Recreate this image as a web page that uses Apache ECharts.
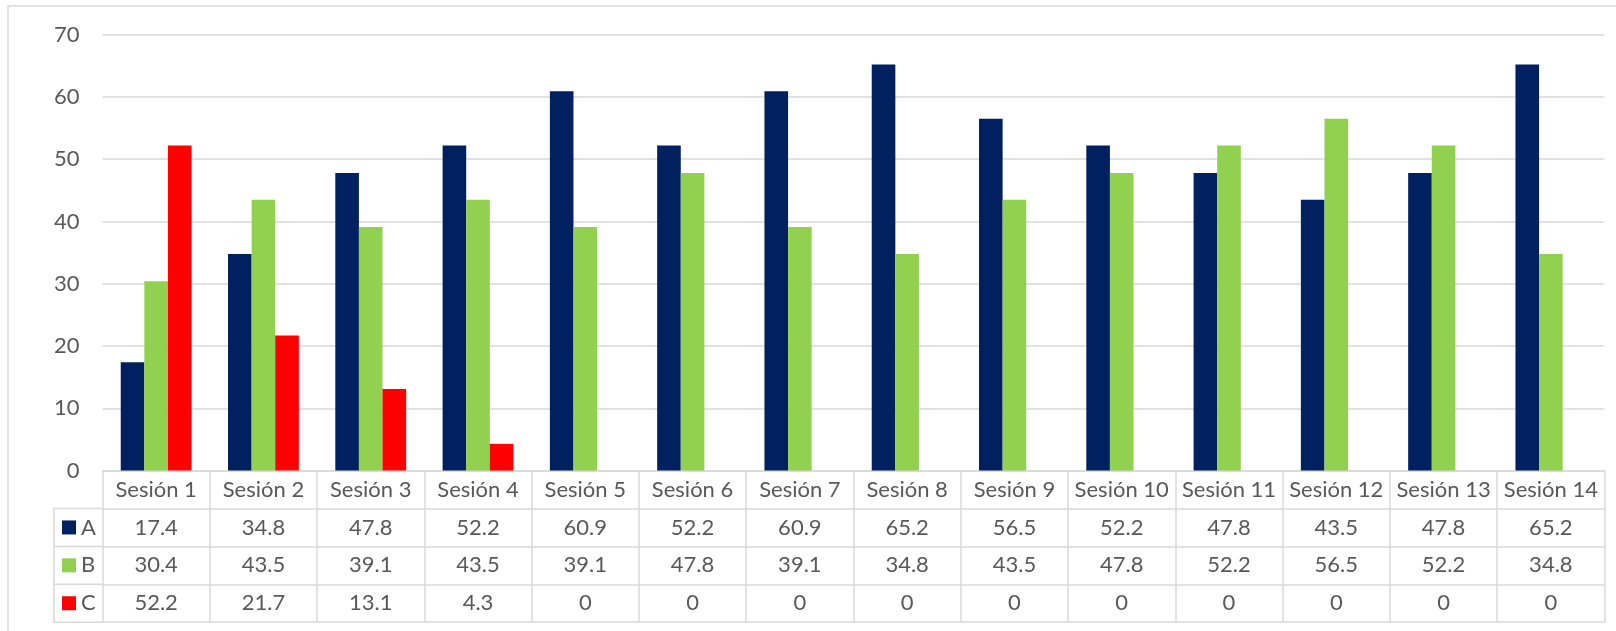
<!DOCTYPE html>
<html>
<head>
<meta charset="utf-8">
<script src="https://cdn.jsdelivr.net/npm/echarts@6/dist/echarts.min.js"></script>
<style>
html,body{margin:0;padding:0;background:#fff;}
#chart{width:1616px;height:631px;}
</style>
</head>
<body>
<div id="chart"></div>
<script>
const categories = ['Sesión 1','Sesión 2','Sesión 3','Sesión 4','Sesión 5','Sesión 6','Sesión 7','Sesión 8','Sesión 9','Sesión 10','Sesión 11','Sesión 12','Sesión 13','Sesión 14'];
const seriesNames = ['A','B','C'];
const valuesA = [17.4,34.8,47.8,52.2,60.9,52.2,60.9,65.2,56.5,52.2,47.8,43.5,47.8,65.2];
const valuesB = [30.4,43.5,39.1,43.5,39.1,47.8,39.1,34.8,43.5,47.8,52.2,56.5,52.2,34.8];
const valuesC = [52.2,21.7,13.1,4.3,0,0,0,0,0,0,0,0,0,0];
const colors = ['#002060','#92D050','#FF0000'];

const FONT = 'Lato';
const FS = 22;
const TEXT = '#595959';
const LINE = '#D9D9D9';
const gridLeft = 102.5, gridRight = 11.5, gridTop = 34.7, baseY = 470.6;
const rowH = 37.9;
const W = 1616, H = 631;

const allValues = [valuesA, valuesB, valuesC];

function tableAxis(i) {
  const isLabelRow = i === 0;
  const hasRow = i <= 3;
  return {
    type: 'category',
    gridIndex: 0,
    position: 'bottom',
    offset: i * rowH,
    data: categories,
    boundaryGap: true,
    axisLine: {show: true, onZero: false, lineStyle: {color: LINE, width: 1.5}},
    axisTick: {show: hasRow, interval: 0, length: rowH, inside: false, lineStyle: {color: LINE, width: 1.5}},
    axisLabel: {
      show: hasRow,
      interval: 0,
      margin: rowH / 2,
      verticalAlign: 'middle',
      color: TEXT,
      fontFamily: FONT,
      fontSize: FS,
      formatter: isLabelRow ? null : function (v, idx) { return String(allValues[i - 1][idx]); }
    },
    splitLine: {show: false}
  };
}

const chart = echarts.init(document.getElementById('chart'), null, {renderer: 'canvas'});
const legendTop = baseY + rowH;
chart.setOption({
  animation: false,
  backgroundColor: '#fff',
  color: colors,
  textStyle: {fontFamily: FONT},
  grid: {left: gridLeft, right: gridRight, top: gridTop, bottom: H - baseY, containLabel: false},
  legend: {
    orient: 'vertical',
    left: 62,
    top: legendTop,
    itemWidth: 14,
    itemHeight: 14,
    itemGap: 0,
    padding: 0,
    icon: 'rect',
    data: seriesNames,
    selectedMode: false,
    textStyle: {color: TEXT, fontFamily: FONT, fontSize: FS, lineHeight: rowH, padding: [0,0,0,0]}
  },
  xAxis: [0,1,2,3,4].map(tableAxis),
  yAxis: {
    type: 'value',
    min: 0, max: 70, interval: 10,
    axisLine: {show: false},
    axisTick: {show: false},
    axisLabel: {color: TEXT, fontFamily: FONT, fontSize: FS, margin: 23},
    splitLine: {lineStyle: {color: LINE, width: 1.5}}
  },
  series: seriesNames.map((n, k) => ({
    name: n,
    type: 'bar',
    xAxisIndex: 0,
    data: allValues[k],
    barGap: '0%',
    barCategoryGap: '34%',
    itemStyle: {color: colors[k]}
  })),
  graphic: [
    {type: 'rect', silent: true, shape: {x: 8, y: 6, width: 1700, height: 800}, style: {fill: 'none', stroke: LINE, lineWidth: 1.5}},
    {type: 'polyline', silent: true, shape: {points: [[gridLeft, baseY + rowH], [54, baseY + rowH], [54, baseY + 4 * rowH], [gridLeft, baseY + 4 * rowH]]}, style: {fill: 'none', stroke: LINE, lineWidth: 1.5}},
    {type: 'line', silent: true, shape: {x1: 54, y1: baseY + 2 * rowH, x2: gridLeft, y2: baseY + 2 * rowH}, style: {stroke: LINE, lineWidth: 1.5}},
    {type: 'line', silent: true, shape: {x1: 54, y1: baseY + 3 * rowH, x2: gridLeft, y2: baseY + 3 * rowH}, style: {stroke: LINE, lineWidth: 1.5}}
  ]
});
</script>
</body>
</html>
